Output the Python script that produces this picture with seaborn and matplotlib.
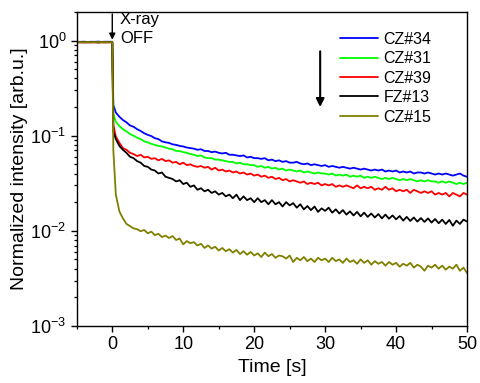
import numpy as np
import pandas as pd
import seaborn as sns
import matplotlib
matplotlib.use('Agg')
import matplotlib.pyplot as plt

# sample names and colours
samples = ['CZ#34', 'CZ#31', 'CZ#39', 'FZ#13', 'CZ#15']
colors = ['#0000ff', '#00ff00', '#ff0000', '#000000', '#808000']

# time grid: before X-ray off, the step, after
t_pre = [-5, -4.5, -4, -3.5, -3, -2.5, -2, -1.5, -1, -0.5, 0.0]
t_step = 0.15
t_post = list(np.arange(1, 101) * 0.5)

pre_cz34 = [0.97, 0.968, 0.972, 0.966, 0.97, 0.969, 0.973, 0.967, 0.971, 0.97, 0.97]
pre_cz31 = [0.965, 0.962, 0.967, 0.963, 0.966, 0.961, 0.966, 0.964, 0.962, 0.965, 0.965]
pre_cz39 = [0.955, 0.96, 0.952, 0.958, 0.954, 0.959, 0.953, 0.957, 0.955, 0.958, 0.956]
pre_fz13 = [0.96, 0.958, 0.962, 0.957, 0.961, 0.959, 0.956, 0.96, 0.958, 0.961, 0.96]
pre_cz15 = [0.962, 0.96, 0.958, 0.963, 0.959, 0.962, 0.957, 0.961, 0.96, 0.958, 0.96]

step_vals = [0.21, 0.17, 0.13, 0.11, 0.07]

cz34 = [0.175, 0.158, 0.146, 0.138, 0.128, 0.124, 0.117, 0.112, 0.106, 0.102,
        0.099, 0.094, 0.092, 0.087, 0.085, 0.084, 0.081, 0.080, 0.078, 0.077,
        0.075, 0.074, 0.073, 0.071, 0.072, 0.069, 0.069, 0.067, 0.068, 0.066,
        0.065, 0.066, 0.063, 0.063, 0.062, 0.061, 0.062, 0.059, 0.060, 0.058,
        0.058, 0.057, 0.058, 0.055, 0.056, 0.054, 0.055, 0.053, 0.054, 0.052,
        0.052, 0.053, 0.051, 0.050, 0.051, 0.049, 0.050, 0.049, 0.048, 0.049,
        0.047, 0.048, 0.047, 0.046, 0.047, 0.046, 0.045, 0.046, 0.045, 0.044,
        0.045, 0.044, 0.043, 0.044, 0.043, 0.044, 0.042, 0.043, 0.042, 0.043,
        0.041, 0.042, 0.041, 0.042, 0.040, 0.041, 0.041, 0.040, 0.041, 0.040,
        0.039, 0.040, 0.039, 0.040, 0.039, 0.038, 0.039, 0.040, 0.038, 0.037]

cz31 = [0.140, 0.126, 0.117, 0.111, 0.104, 0.100, 0.095, 0.092, 0.087, 0.085,
        0.082, 0.080, 0.078, 0.077, 0.075, 0.073, 0.072, 0.069, 0.069, 0.067,
        0.066, 0.064, 0.063, 0.061, 0.062, 0.059, 0.058, 0.058, 0.056, 0.056,
        0.055, 0.054, 0.053, 0.053, 0.051, 0.052, 0.050, 0.050, 0.049, 0.049,
        0.047, 0.048, 0.046, 0.047, 0.045, 0.046, 0.044, 0.045, 0.043, 0.044,
        0.043, 0.042, 0.043, 0.041, 0.042, 0.041, 0.040, 0.041, 0.040, 0.040,
        0.039, 0.040, 0.038, 0.039, 0.038, 0.039, 0.037, 0.038, 0.037, 0.038,
        0.036, 0.037, 0.036, 0.037, 0.036, 0.035, 0.036, 0.035, 0.036, 0.035,
        0.034, 0.035, 0.034, 0.035, 0.034, 0.033, 0.034, 0.033, 0.034, 0.033,
        0.033, 0.032, 0.033, 0.032, 0.033, 0.032, 0.031, 0.032, 0.031, 0.032]

cz39 = [0.098, 0.084, 0.074, 0.071, 0.066, 0.064, 0.061, 0.063, 0.059, 0.060,
        0.057, 0.058, 0.055, 0.057, 0.054, 0.055, 0.052, 0.053, 0.050, 0.052,
        0.049, 0.050, 0.048, 0.047, 0.048, 0.046, 0.047, 0.044, 0.046, 0.043,
        0.044, 0.042, 0.043, 0.041, 0.042, 0.040, 0.041, 0.039, 0.040, 0.038,
        0.039, 0.037, 0.038, 0.036, 0.037, 0.035, 0.036, 0.034, 0.035, 0.033,
        0.034, 0.033, 0.032, 0.033, 0.031, 0.032, 0.031, 0.032, 0.030, 0.031,
        0.030, 0.031, 0.029, 0.030, 0.029, 0.030, 0.029, 0.028, 0.030, 0.028,
        0.029, 0.028, 0.029, 0.027, 0.028, 0.027, 0.029, 0.027, 0.028, 0.026,
        0.027, 0.026, 0.027, 0.025, 0.027, 0.026, 0.025, 0.026, 0.025, 0.026,
        0.024, 0.025, 0.024, 0.025, 0.023, 0.025, 0.024, 0.023, 0.025, 0.024]

fz13 = [0.092, 0.078, 0.071, 0.066, 0.060, 0.058, 0.054, 0.052, 0.048, 0.047,
        0.044, 0.043, 0.040, 0.041, 0.037, 0.036, 0.035, 0.033, 0.034, 0.031,
        0.032, 0.029, 0.030, 0.027, 0.028, 0.026, 0.027, 0.025, 0.026, 0.024,
        0.025, 0.023, 0.024, 0.022, 0.024, 0.021, 0.023, 0.021, 0.022, 0.020,
        0.022, 0.020, 0.021, 0.019, 0.021, 0.019, 0.020, 0.018, 0.020, 0.0185,
        0.0195, 0.0175, 0.019, 0.0168, 0.0182, 0.0165, 0.018, 0.0158, 0.0172, 0.0162,
        0.0175, 0.0155, 0.0168, 0.0152, 0.0165, 0.0148, 0.016, 0.0145, 0.0158, 0.0142,
        0.0155, 0.014, 0.0152, 0.0138, 0.015, 0.0135, 0.0148, 0.0134, 0.0145, 0.0132,
        0.0143, 0.0128, 0.014, 0.0127, 0.0138, 0.0125, 0.0136, 0.0124, 0.0135, 0.0122,
        0.0133, 0.012, 0.0131, 0.0118, 0.013, 0.0113, 0.0128, 0.0118, 0.0131, 0.0125]

cz15 = [0.024, 0.016, 0.0135, 0.0118, 0.0112, 0.0106, 0.0104, 0.0099, 0.0102, 0.0094,
        0.0098, 0.0090, 0.0093, 0.0086, 0.0089, 0.0084, 0.0088, 0.0080, 0.0083, 0.0072,
        0.0078, 0.0074, 0.0076, 0.0070, 0.0073, 0.0066, 0.0070, 0.0065, 0.0068, 0.0062,
        0.0066, 0.0061, 0.0064, 0.0059, 0.0063, 0.0057, 0.0061, 0.0056, 0.0060, 0.0055,
        0.0058, 0.0053, 0.0059, 0.0054, 0.0057, 0.0052, 0.0055, 0.0054, 0.0051, 0.0055,
        0.0047, 0.0052, 0.0049, 0.0053, 0.0048, 0.0051, 0.0047, 0.0052, 0.0049, 0.0051,
        0.0047, 0.0052, 0.0048, 0.0050, 0.0046, 0.0051, 0.0047, 0.0049, 0.0045, 0.0050,
        0.0046, 0.0049, 0.0044, 0.0048, 0.0045, 0.0047, 0.0043, 0.0047, 0.0044, 0.0046,
        0.0042, 0.0045, 0.0043, 0.0046, 0.0041, 0.0044, 0.0042, 0.0038, 0.0043, 0.0041,
        0.0044, 0.0040, 0.0043, 0.0039, 0.0042, 0.0040, 0.0044, 0.0038, 0.0041, 0.0036]

pres = [pre_cz34, pre_cz31, pre_cz39, pre_fz13, pre_cz15]
posts = [cz34, cz31, cz39, fz13, cz15]

rows = []
for name, pre, st, post in zip(samples, pres, step_vals, posts):
    tt = t_pre + [t_step] + t_post
    vv = pre + [st] + post
    for t, v in zip(tt, vv):
        rows.append((name, t, v))
df = pd.DataFrame(rows, columns=['sample', 'time', 'intensity'])

sns.set_style('ticks')
plt.rcParams['font.family'] = ['Liberation Sans', 'DejaVu Sans']
plt.rcParams['mathtext.fontset'] = 'custom'
plt.rcParams['mathtext.rm'] = 'Liberation Sans'
plt.rcParams['mathtext.it'] = 'Liberation Sans'
for k in ['text.color', 'axes.labelcolor', 'xtick.color', 'ytick.color', 'axes.edgecolor']:
    plt.rcParams[k] = 'black'

fig = plt.figure(figsize=(4.8, 3.83), dpi=100)
ax = fig.add_axes([0.160, 0.149, 0.813, 0.820])

sns.lineplot(data=df, x='time', y='intensity', hue='sample', hue_order=samples,
             palette=colors, estimator=None, sort=False, linewidth=1.3, ax=ax)

ax.set_yscale('log')
ax.set_xlim(-5, 50)
ax.set_ylim(1e-3, 2.0)
ax.set_xticks([0, 10, 20, 30, 40, 50])
ax.set_xticks([-5, 5, 15, 25, 35, 45], minor=True)
ax.set_yticks([1e-3, 1e-2, 1e-1, 1e0])

for s in ax.spines.values():
    s.set_linewidth(1.0)
ax.tick_params(which='major', direction='out', length=4, width=1.0, labelsize=13,
               top=False, right=False)
ax.tick_params(which='minor', direction='out', length=2.2, width=0.9,
               top=False, right=False)

ax.set_xlabel('Time [s]', fontsize=14, labelpad=4)
ax.set_ylabel('Normalized intensity [arb.u.]', fontsize=14, labelpad=2)

ax.legend(frameon=False, loc='upper left', bbox_to_anchor=(0.674, 0.937),
          borderpad=0, borderaxespad=0, handlelength=2.4, handletextpad=0.35,
          labelspacing=0.28, fontsize=11.5)

# arrows and annotation
ax.annotate('', xy=(0, 1.02), xytext=(0, 1.9),
            arrowprops=dict(arrowstyle='-|>', color='black', lw=1.0,
                            mutation_scale=9, shrinkA=0, shrinkB=0))
ax.text(1.1, 1.97, 'X-ray\nOFF', fontsize=12, va='top', ha='left', linespacing=1.3)
ax.annotate('', xy=(29.3, 0.2), xytext=(29.3, 0.77),
            arrowprops=dict(arrowstyle='-|>', color='black', lw=1.5,
                            mutation_scale=12, shrinkA=0, shrinkB=0))

fig.savefig('out.png', dpi=100)
